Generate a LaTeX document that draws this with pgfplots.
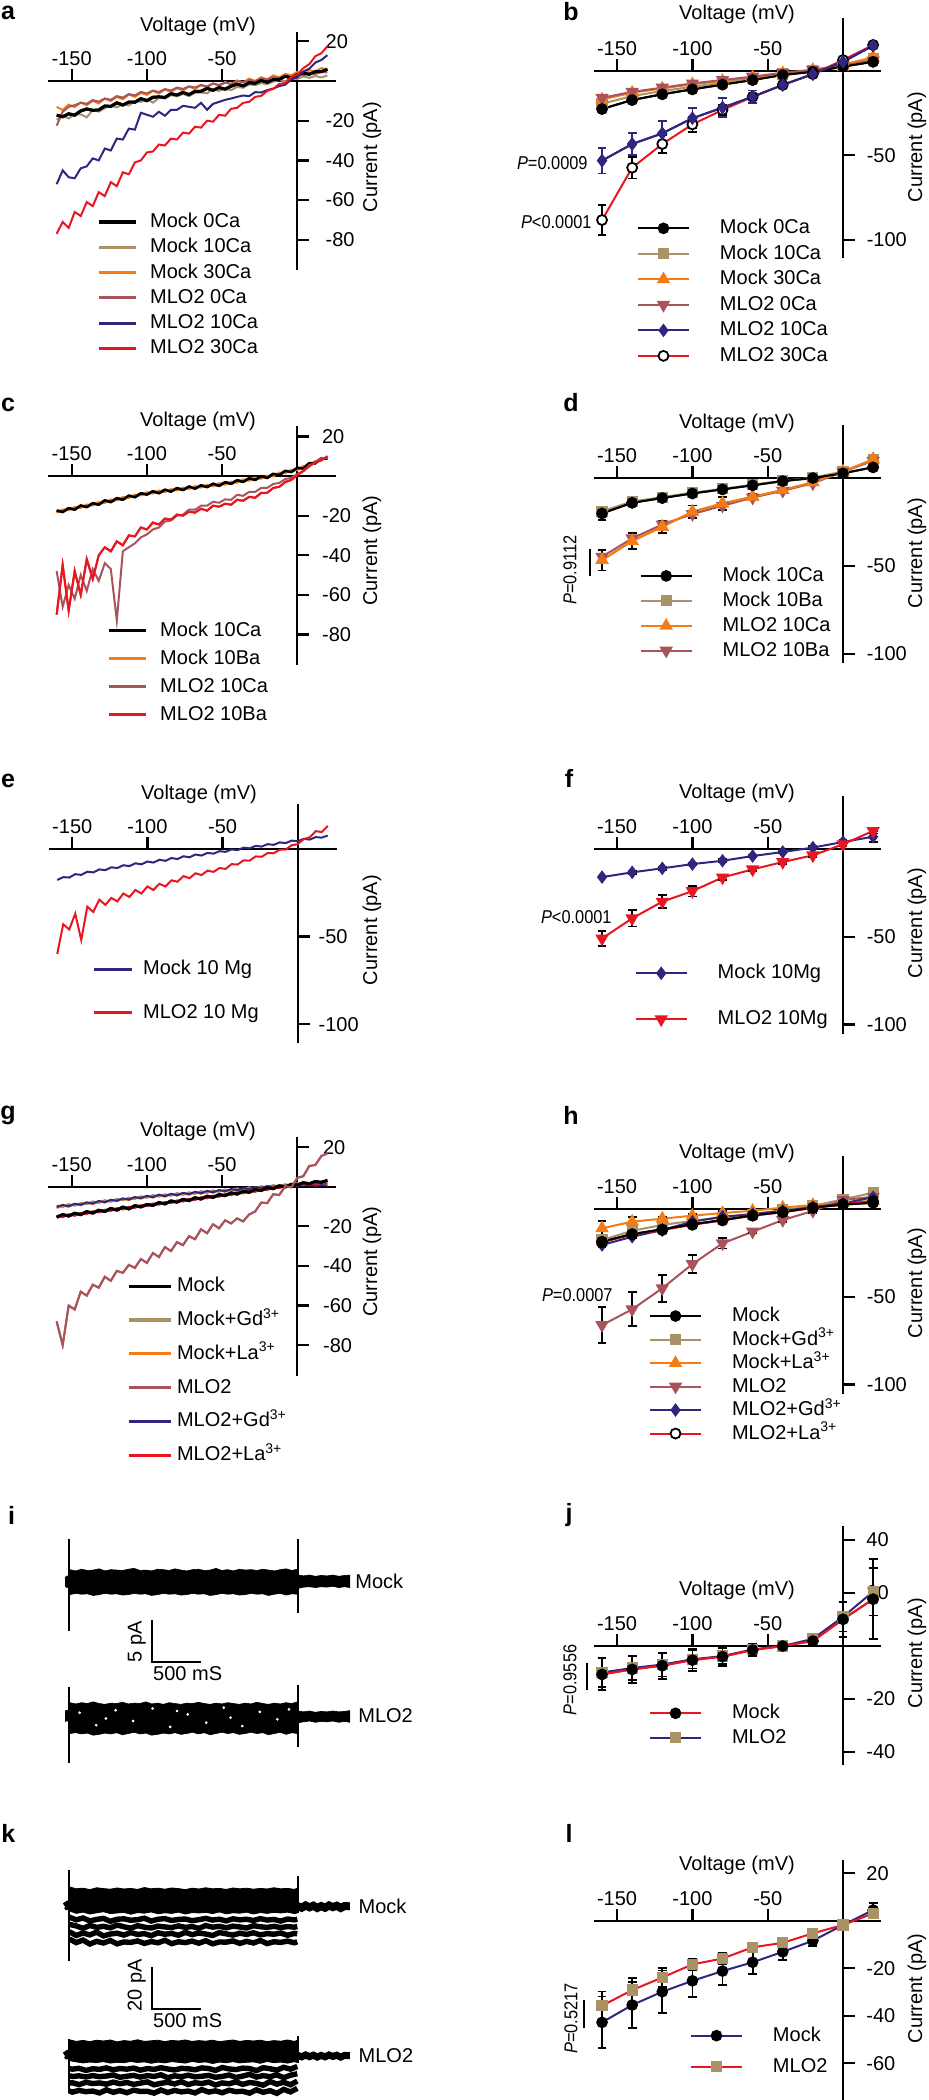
\documentclass[border=0pt]{standalone}
\usepackage{fontspec}
\setmainfont{Liberation Sans}
\usepackage{graphicx}
\usepackage{pgfplots}
\usepackage{pgfplotstable}
\pgfplotsset{compat=1.18}

\definecolor{tanc}{RGB}{168,146,102}
\definecolor{orangec}{RGB}{244,124,22}
\definecolor{mauvec}{RGB}{168,84,90}
\definecolor{navyc}{RGB}{48,38,128}
\definecolor{redc}{RGB}{232,22,32}
\newcommand{\fs}{\fontsize{10}{12}\selectfont}

\pgfplotsset{
  ivbase/.style={
    anchor=origin, clip=false,
    axis x line=middle, axis y line=middle,
    axis line style={line width=1.1pt,-,black},
    tick style={line width=1.1pt,black},
    tick align=inside, major tick length=6pt,
    xtick={-150,-100,-50},
    /pgf/number format/assume math mode=true,
    tick label style={font=\fs, inner sep=0pt},
    xticklabel style={anchor=base, yshift=7.8pt},
    legend cell align=left,
  },
  leg/.style n args={4}{legend style={draw=none, fill=none, inner sep=0pt, outer sep=0pt,
     at={(axis cs:#1,#2)}, anchor=north west, row sep=#3, column sep=#4,
     font=\fs, nodes={inner sep=0pt, text height=7.5pt, text depth=2pt}}},
  trleg/.style={legend image code/.code={\draw[##1,line width=1.6pt] (0pt,0pt) -- (#1,0pt);}},
  mkleg/.style={legend image code/.code={\draw[mark repeat=2,mark phase=2,##1] plot coordinates {(0pt,0pt) (12.75pt,0pt) (25.5pt,0pt)};}},
  eb/.style={error bars/.cd, y dir=both, y explicit, error bar style={line width=0.9pt,#1}, error mark options={rotate=90, line width=0.9pt, mark size=2.2pt, #1}},
  pK/.style={black, line width=1pt, mark=*, mark size=2.4pt, mark options={fill=black,draw=black}},
  pT/.style={tanc, line width=1pt, mark=square*, mark size=2.3pt, mark options={fill=tanc,draw=tanc}},
  pO/.style={orangec, line width=1pt, mark=triangle*, mark size=2.9pt, mark options={fill=orangec,draw=orangec}},
  pV/.style={mauvec, line width=1pt, mark=triangle*, mark size=2.9pt, mark options={fill=mauvec,draw=mauvec,rotate=180}},
  pN/.style={navyc, line width=1pt, mark=diamond*, mark size=2.6pt, mark options={fill=navyc,draw=navyc}},
  pR/.style={redc, line width=1pt, mark=*, mark size=2.5pt, mark options={fill=white,draw=black,line width=0.9pt}},
}

% ---------------- data ----------------
\pgfplotstableread{
V m0 m10 m30 l0 l10 l30
-160 -17.2 -19.5 -13.0 -22.5 -52 -77
-156 -18.0 -17.5 -14.6 -15.5 -45 -71
-152 -16.5 -18.9 -11.9 -13.0 -48.5 -74
-148 -17.2 -16.7 -13.1 -12.2 -49 -66
-144 -15.1 -16.8 -10.9 -10.9 -44 -68
-140 -14.1 -18.3 -12.2 -11.5 -43 -61
-136 -14.8 -14.6 -10.0 -9.6 -39 -63
-132 -14.6 -15.4 -11.3 -10.4 -40 -56
-128 -12.6 -13.7 -8.9 -8.8 -34 -58
-124 -12.8 -12.3 -10.1 -9.5 -35 -51
-120 -11.0 -13.3 -8.0 -7.6 -29 -53
-116 -12.1 -11.7 -9.2 -8.4 -29.5 -46
-112 -10.6 -12.3 -6.8 -6.6 -24 -47
-108 -10.7 -10.1 -8.0 -7.3 -24.5 -41
-104 -8.9 -10.5 -6.0 -5.5 -16 -40
-100 -9.9 -9.0 -7.0 -6.3 -17 -36
-96 -8.2 -10.9 -5.0 -4.8 -18 -35.5
-92 -8.0 -8.5 -6.3 -5.6 -15.5 -32
-88 -8.3 -8.8 -4.2 -4.1 -17.5 -32.5
-84 -6.4 -7.1 -5.5 -4.8 -14.5 -29
-80 -7.1 -7.7 -3.6 -3.3 -14.5 -29.5
-76 -5.8 -6.5 -4.8 -4.0 -12.5 -26
-72 -6.9 -7.6 -2.8 -2.7 -13 -26.5
-68 -5.2 -5.9 -4.0 -3.3 -13.5 -23
-64 -5.2 -5.8 -2.0 -2.0 -11 -23.5
-60 -3.7 -6.2 -3.1 -2.8 -14.5 -20
-56 -4.7 -4.2 -1.2 -1.3 -11.5 -20.5
-52 -3.3 -5.0 -2.5 -2.0 -10.5 -17
-48 -4.1 -3.8 -0.5 -0.8 -9.5 -17.5
-44 -2.6 -4.6 -1.6 -1.5 -8.8 -14
-40 -1.6 -3.0 0.3 -0.1 -8 -13.5
-36 -2.5 -3.4 -0.8 -0.6 -7.3 -11
-32 -0.9 -1.7 1.2 0.5 -7.6 -10.5
-28 -1.2 -2.1 0.0 0.0 -5.6 -8
-24 0.3 -1.1 1.9 1.2 -5.8 -7.5
-20 -0.7 -1.6 0.8 0.8 -4.6 -5
-16 0.7 -0.3 2.8 1.9 -3.8 -4
-12 0.8 0.5 1.8 1.4 -2.6 -1.5
-8 2.4 -0.2 3.6 2.4 -1.8 -1
-4 1.5 1.3 2.9 2.0 0.8 2
0 3.3 1.1 4.6 3.2 1.8 3.2
4 4.0 2.3 3.9 2.9 4.8 6.5
8 3.4 1.6 5.4 3.8 6.2 8.5
12 4.7 2.5 4.9 3.5 9.3 12.5
16 4.7 1.8 6.5 4.6 10.6 14
20 5.9 2.8 5.8 4.3 13 17.5
}\tA

\pgfplotstableread{
V k o m r
-160 -17.5 -18.6 -48 -70
-156 -18.1 -16.9 -66 -45
-152 -16.3 -17.3 -55 -68
-148 -16.9 -15.6 -62 -48
-144 -15.0 -16.1 -50 -60
-140 -15.6 -14.4 -58 -42
-136 -13.8 -14.9 -47 -52
-132 -14.4 -13.1 -53 -40
-128 -12.4 -13.6 -44 -36
-124 -13.1 -11.8 -47 -38
-120 -11.3 -12.3 -73 -33
-116 -11.9 -10.6 -38 -35
-112 -10.0 -11.1 -36 -30
-108 -10.6 -9.4 -34 -30.5
-104 -8.8 -9.8 -31 -26
-100 -9.3 -8.2 -29.5 -27
-96 -7.8 -8.9 -27 -23.5
-92 -8.6 -7.3 -26 -24.5
-88 -7.0 -8.1 -23 -21.5
-84 -7.8 -6.6 -22.5 -22
-80 -6.2 -7.3 -20 -19.5
-76 -7.0 -5.9 -19.5 -20
-72 -5.4 -6.5 -17 -18
-68 -6.3 -5.1 -17 -18.5
-64 -4.8 -5.8 -15 -16.5
-60 -5.5 -4.4 -15 -17.5
-56 -4.0 -5.2 -13 -15
-52 -4.9 -3.6 -13.5 -15.5
-48 -3.2 -4.4 -11.8 -14
-44 -3.9 -2.8 -12 -14.5
-40 -2.2 -3.4 -9.5 -12
-36 -2.9 -1.7 -10 -12.5
-32 -1.2 -2.4 -8 -10.5
-28 -1.9 -0.8 -8 -11
-24 -0.2 -1.4 -6 -8.5
-20 -0.9 0.2 -6 -8.5
-16 1.0 -0.2 -4 -6
-12 0.6 1.7 -3.5 -5.5
-8 2.5 1.4 -1.5 -3
-4 2.1 3.2 -1 -2
0 4.0 2.9 1 0.5
4 3.9 5.1 2.5 2.5
8 6.4 5.3 5.5 5
12 6.5 7.6 6.5 7
16 8.9 7.8 9 8
20 8.8 10.1 9 9.8
}\tC

\pgfplotstableread{
V n r
-160 -17.8 -60
-156 -16.2 -43
-152 -16.4 -46
-148 -14.5 -37
-144 -14.9 -52
-140 -13.1 -33
-136 -13.5 -36
-132 -11.8 -29
-128 -12.2 -32
-124 -10.6 -28
-120 -11.0 -30
-116 -9.4 -25.5
-112 -9.9 -27.5
-108 -8.3 -23.5
-104 -8.9 -25.5
-100 -7.3 -21.5
-96 -7.9 -23.5
-92 -6.3 -20
-88 -6.9 -21.5
-84 -5.3 -18
-80 -5.9 -18.8
-76 -4.3 -15.6
-72 -4.9 -16.8
-68 -3.3 -14
-64 -3.9 -15
-60 -2.4 -12.5
-56 -2.8 -13.2
-52 -1.4 -11
-48 -1.8 -11.5
-44 -0.4 -8.8
-40 -0.8 -9
-36 0.6 -6.6
-32 0.2 -6.8
-28 1.6 -4.4
-24 1.2 -4.6
-20 2.6 -2.5
-16 2.2 -2.6
-12 3.6 -0.6
-8 3.2 -0.5
-4 4.6 2
0 4.3 2.6
4 5.6 5.5
8 5.2 6.5
12 6.6 10
16 6.3 9.5
20 7.5 13
}\tE

\pgfplotstableread{
V k gd la ml lgd lla
-160 -15.4 -9.4 -10.8 -68 -10.2 -14.6
-156 -14.1 -10.3 -9.5 -80 -9.2 -15.4
-152 -14.8 -8.8 -10.1 -60 -9.9 -13.9
-148 -13.4 -9.6 -8.8 -62 -8.6 -14.7
-144 -14.1 -8.2 -9.4 -53 -9.1 -13.2
-140 -12.6 -8.9 -8.1 -55 -7.9 -13.8
-136 -13.3 -7.4 -8.7 -49.5 -8.5 -12.4
-132 -11.9 -8.3 -7.4 -51 -7.2 -13.0
-128 -12.5 -6.8 -8.0 -45.5 -7.8 -11.6
-124 -11.0 -7.6 -6.8 -47.5 -6.6 -12.3
-120 -11.8 -6.1 -7.3 -42.5 -7.1 -10.8
-116 -10.3 -6.9 -6.1 -43.5 -5.9 -11.5
-112 -11.2 -5.5 -6.7 -39.5 -6.5 -10.1
-108 -9.6 -6.2 -5.5 -41 -5.2 -10.7
-104 -10.2 -4.8 -6.0 -36.5 -5.8 -9.3
-100 -9.0 -5.6 -4.8 -38.5 -4.6 -9.8
-96 -9.4 -4.2 -5.5 -33.5 -5.3 -8.5
-92 -8.0 -5.0 -4.3 -35.5 -4.0 -9.1
-88 -8.7 -3.8 -5.0 -30.5 -4.8 -7.7
-84 -7.2 -4.6 -3.8 -32.5 -3.6 -8.3
-80 -7.8 -3.2 -4.5 -28 -4.3 -6.9
-76 -6.4 -4.1 -3.4 -29.5 -3.1 -7.5
-72 -7.0 -2.8 -4.0 -25 -3.8 -6.1
-68 -5.6 -3.6 -2.9 -26.5 -2.6 -6.7
-64 -6.2 -2.2 -3.5 -21.5 -3.3 -5.3
-60 -4.8 -3.1 -2.4 -23.5 -2.1 -5.9
-56 -5.4 -1.8 -3.0 -19 -2.8 -4.5
-52 -4.0 -2.6 -1.9 -21 -1.7 -5.1
-48 -4.5 -1.4 -2.5 -17 -2.3 -3.6
-44 -3.1 -2.1 -1.4 -18.5 -1.2 -4.3
-40 -3.7 -0.8 -2.0 -16 -1.8 -2.8
-36 -2.3 -1.6 -0.9 -17.5 -0.7 -3.4
-32 -2.8 -0.3 -1.5 -14 -1.2 -2.0
-28 -1.4 -1.0 -0.3 -12.5 -0.2 -2.6
-24 -1.9 0.3 -0.9 -8 -0.6 -1.1
-20 -0.5 -0.5 0.2 -8.3 0.3 -1.7
-16 -1.0 0.8 -0.4 -3.8 -0.1 -0.2
-12 0.4 0.0 0.7 -4.2 0.7 -0.7
-8 -0.1 1.3 0.1 0.3 0.3 0.5
-4 1.2 0.5 1.2 -0.3 1.0 0.2
0 0.9 1.8 0.6 4.5 0.7 1.3
4 2.0 0.8 1.4 5.3 0.6 1.0
8 1.5 1.8 0.7 10.5 1.0 1.8
12 2.6 0.9 1.5 11 0.4 1.3
16 2.2 1.7 0.8 15.5 0.8 2.1
20 3.2 1.0 1.4 16.8 0.5 1.7
}\tG

\pgfplotstableread{
V a ae b c d e ee f fe
-160 -22.6 1.5 -19.5 -17 -16 -53.1 7.6 -88.2 9
-140 -17.3 1 -15 -13 -12.5 -43.3 6.6 -57.3 6.4
-120 -13.9 1 -12 -10.5 -10 -37 7.5 -43.3 5.1
-100 -11 1 -9.5 -8 -7.5 -28.1 5.9 -31.7 4.7
-80 -8.2 1 -7 -6 -5.5 -21.8 5.7 -23.2 2.8
-60 -5.5 1 -4.5 -3.8 -3.5 -15.4 3.7 -15.4 1.5
-40 -2.5 0.5 -2 -1.5 -1.2 -8.4 1 -8.4 1
-20 -0.6 0.5 0 0.5 0.5 -2 1 -2 1
0 2.4 0.5 3 3.5 3 5.3 1 6.3 1
20 5.3 0.5 7 8 6 14.8 1 15.2 1
}\tB

\pgfplotstableread{
V a ae b c ce d
-160 -20.2 3.8 -19 -46.7 5.9 -44.8
-140 -14.2 1 -13.5 -35.9 4.6 -34.4
-120 -11.5 1 -11 -27.8 3.5 -26.5
-100 -8.9 1 -8.5 -19.3 3.6 -20.6
-80 -6.6 1 -6.3 -14.6 3.6 -15.9
-60 -4.3 1 -4 -10.8 1.5 -11.3
-40 -1.9 1 -1.8 -7 1 -7.4
-20 -0.2 1 0 -2.6 1 -3.2
0 2.5 1 3.5 3.4 1 3.4
20 5.9 1 10 10.4 1 9.6
}\tD

\pgfplotstableread{
V a ae b be
-160 -16 0.8 -51 4.3
-140 -13.3 0.8 -39.5 4.6
-120 -11 0.8 -30 3.6
-100 -8.6 0.8 -24 3.1
-80 -6.7 0.8 -16.2 1.5
-60 -4 0.8 -11.6 1
-40 -1.7 0.8 -7.4 1
-20 0.8 0.8 -3.6 1
0 4 1 2.7 1
20 7 3 10.3 1.5
}\tF

\pgfplotstableread{
V a ae b c ce d de e f
-160 -18.6 3 -17.7 -11 4 -66.2 10.3 -20.5 -19
-140 -14.3 2 -12.4 -7.2 2.5 -57.2 9.7 -15.8 -14.5
-120 -11.6 2 -9.1 -5.5 1 -45.2 7.7 -12 -12
-100 -8.7 1 -6.7 -3.8 1 -31.4 5.2 -7.2 -9
-80 -6.3 1 -4.8 -2.3 1 -19.6 2.9 -4.4 -6.5
-60 -3.6 1 -2.9 -1 1 -12.9 1 -2.9 -3.8
-40 -1.7 1 -0.6 0.8 1 -6.3 1 -1.1 -1.8
-20 0.8 1 1.7 2.3 1 -1.1 1 1 0.6
0 2.5 1 5.5 3.6 1 5.1 1 3.2 2.7
20 3.6 1 9.3 4.6 1 7 1 6.7 4.5
}\tH

\pgfplotstableread{
V a ae b be
-160 -10.7 6 -10 5.5
-140 -8.8 5.2 -8.3 4.5
-120 -7.4 4.9 -7 4.5
-100 -5.3 4.2 -5 3.5
-80 -4 3.5 -3.8 3
-60 -1.5 2.4 -1.3 2
-40 0 1 0 1
-20 1.9 1 2.7 1
0 10.1 6.6 11 5.5
20 17.7 15 20.5 9
}\tJ

\pgfplotstableread{
V a ae b be
-160 -42.8 10.9 -35.8 6
-140 -35.5 9.7 -29.2 5
-120 -29.9 8.9 -23.9 4
-100 -25.3 6.7 -18.4 2.5
-80 -21.2 6 -15.9 2.5
-60 -17.5 4.9 -11.2 1.5
-40 -13.1 3.3 -9.3 1.5
-20 -8.4 2.3 -5.3 1
0 -1.8 1 -1.8 1
20 4.5 3 3.1 1
}\tL

% single-channel recordings (panel k): time (ms), mirrored time, lower traces (pA)
\pgfplotstableread{
t tr c1 c2 c3 c4
45 2385 -5.0 -8.5 -12.0 -15.5
115 2315 -6.3 -9.2 -13.8 -17.2
185 2245 -5.4 -10.4 -12.6 -16.0
255 2175 -6.8 -9.0 -13.5 -17.9
325 2105 -6.1 -9.9 -12.2 -16.6
395 2035 -5.6 -9.4 -14.0 -17.4
465 1965 -7.0 -10.1 -13.1 -16.2
535 1895 -6.0 -8.8 -12.7 -17.8
605 1825 -5.8 -9.6 -13.6 -16.9
675 1755 -6.5 -10.3 -12.4 -17.1
745 1685 -6.2 -9.1 -13.3 -16.4
815 1615 -5.5 -9.8 -12.9 -17.6
885 1545 -6.9 -10.2 -13.9 -16.7
955 1475 -6.0 -9.3 -12.5 -17.3
1025 1405 -5.7 -9.7 -13.2 -16.1
1095 1335 -6.6 -10.0 -12.8 -17.7
1165 1265 -6.1 -9.2 -13.7 -16.8
1235 1195 -5.9 -9.9 -12.3 -17.2
1305 1125 -6.7 -9.5 -13.4 -16.5
1375 1055 -6.2 -10.4 -12.6 -17.5
1445 985 -5.6 -9.0 -13.1 -16.3
1515 915 -6.4 -9.8 -13.8 -17.8
1585 845 -6.0 -9.4 -12.4 -16.9
1655 775 -6.8 -10.1 -13.0 -17.0
1725 705 -5.8 -9.3 -13.6 -16.4
1795 635 -6.3 -9.7 -12.7 -17.6
1865 565 -6.0 -10.2 -13.3 -16.6
1935 495 -6.6 -9.1 -12.5 -17.4
2005 425 -5.7 -9.6 -13.5 -16.2
2075 355 -6.4 -9.9 -12.9 -17.7
2145 285 -6.1 -9.4 -13.2 -16.8
2215 215 -6.9 -10.0 -12.6 -17.1
2285 145 -5.9 -9.5 -13.7 -16.5
2355 75 -6.3 -9.8 -12.8 -17.3
2385 45 -6.0 -9.5 -13.0 -16.8
}\tK

\begin{document}
\begin{tikzpicture}
\useasboundingbox (0pt,0pt) rectangle (464pt,-1050pt);

% ============ a ============
\begin{axis}[ivbase, at={(148.65pt,-40.5pt)}, x=0.752pt, y=0.9925pt,
  xmin=-165.8, xmax=25.7, ymin=-95.2, ymax=24.7,
  ytick={-80,-60,-40,-20,20}, yticklabel style={anchor=west, xshift=14pt},
  leg={-133.2}{-66.2}{3.15pt}{6.5pt}]
\addplot[black, line width=1.5pt, trleg=18.5pt] table[x=V,y=m0]{\tA};
\addlegendentry{Mock 0Ca}
\addplot[tanc, line width=1pt, trleg=18.5pt] table[x=V,y=m10]{\tA};
\addlegendentry{Mock 10Ca}
\addplot[orangec, line width=1pt, trleg=18.5pt] table[x=V,y=m30]{\tA};
\addlegendentry{Mock 30Ca}
\addplot[mauvec, line width=1pt, trleg=18.5pt] table[x=V,y=l0]{\tA};
\addlegendentry{MLO2 0Ca}
\addplot[black, line width=1.5pt, forget plot] table[x=V,y=m0]{\tA};
\addplot[navyc, line width=1pt, trleg=18.5pt] table[x=V,y=l10]{\tA};
\addlegendentry{MLO2 10Ca}
\addplot[redc, line width=1pt, trleg=18.5pt] table[x=V,y=l30]{\tA};
\addlegendentry{MLO2 30Ca}
\end{axis}

% ============ b ============
\begin{axis}[ivbase, at={(421.5pt,-35.35pt)}, x=0.753pt, y=0.8465pt,
  xmin=-165.3, xmax=25.2, ymin=-110.4, ymax=30.9,
  ytick={-100,-50}, yticklabel style={anchor=west, xshift=11.7pt},
  leg={-136.8}{-87.5}{3.25pt}{15pt}, mkleg]
\addplot[pK, eb=black] table[x=V,y=a,y error=ae]{\tB};
\addlegendentry{Mock 0Ca}
\addplot[pT] table[x=V,y=b]{\tB};
\addlegendentry{Mock 10Ca}
\addplot[pO] table[x=V,y=c]{\tB};
\addlegendentry{Mock 30Ca}
\addplot[pV] table[x=V,y=d]{\tB};
\addlegendentry{MLO2 0Ca}
\addplot[pK, forget plot] table[x=V,y=a]{\tB};
\addplot[pN, eb=navyc] table[x=V,y=e,y error=ee]{\tB};
\addlegendentry{MLO2 10Ca}
\addplot[pR, eb=black] table[x=V,y=f,y error=fe]{\tB};
\addlegendentry{MLO2 30Ca}
\addplot[pN, forget plot] table[x=V,y=e]{\tB};
\end{axis}

% ============ c ============
\begin{axis}[ivbase, at={(148.65pt,-238pt)}, x=0.752pt, y=0.99pt,
  xmin=-165.8, xmax=25.7, ymin=-95.5, ymax=25.3,
  ytick={-80,-60,-40,-20,20}, yticklabel style={anchor=west, xshift=12.2pt},
  leg={-126.5}{-73.3}{4.5pt}{6.5pt}]
\addplot[black, line width=1.4pt, trleg=18.5pt] table[x=V,y=k]{\tC};
\addlegendentry{Mock 10Ca}
\addplot[orangec, line width=1pt, trleg=18.5pt] table[x=V,y=o]{\tC};
\addlegendentry{Mock 10Ba}
\addplot[black, line width=1.2pt, forget plot] table[x=V,y=k]{\tC};
\addplot[redc, line width=1pt, forget plot] table[x=V,y=r]{\tC};
\addplot[mauvec, line width=1pt, trleg=18.5pt] table[x=V,y=m]{\tC};
\addlegendentry{MLO2 10Ca}
\addplot[redc, line width=1pt, trleg=18.5pt] table[x=V,y=r]{\tC};
\addlegendentry{MLO2 10Ba}
\end{axis}

% ============ d ============
\begin{axis}[ivbase, at={(421.5pt,-238.85pt)}, x=0.753pt, y=0.882pt,
  xmin=-165.3, xmax=25.2, ymin=-105.2, ymax=29.9,
  ytick={-100,-50}, yticklabel style={anchor=west, xshift=11.7pt},
  leg={-135}{-50.3}{2.95pt}{15pt}, mkleg]
\addplot[pK, eb=black] table[x=V,y=a,y error=ae]{\tD};
\addlegendentry{Mock 10Ca}
\addplot[pT] table[x=V,y=b]{\tD};
\addlegendentry{Mock 10Ba}
\addplot[pO, eb=black] table[x=V,y=c,y error=ce]{\tD};
\addlegendentry{MLO2 10Ca}
\addplot[pV] table[x=V,y=d]{\tD};
\addlegendentry{MLO2 10Ba}
\addplot[pO, forget plot] table[x=V,y=c]{\tD};
\addplot[pK, forget plot] table[x=V,y=a]{\tD};
\end{axis}

% ============ e ============
\begin{axis}[ivbase, at={(148.85pt,-424.35pt)}, x=0.7515pt, y=0.878pt,
  xmin=-165.3, xmax=26.2, ymin=-110.8, ymax=25.5,
  ytick={-100,-50}, yticklabel style={anchor=west, xshift=10.3pt},
  leg={-136.4}{-63.3}{12.2pt}{5pt}]
\addplot[navyc, line width=1pt, trleg=18.65pt] table[x=V,y=n]{\tE};
\addlegendentry{Mock 10 Mg}
\addplot[redc, line width=1pt, trleg=18.65pt] table[x=V,y=r]{\tE};
\addlegendentry{MLO2 10 Mg}
\end{axis}

% ============ f ============
\begin{axis}[ivbase, at={(421.5pt,-424.5pt)}, x=0.753pt, y=0.8775pt,
  xmin=-165.3, xmax=25.2, ymin=-105.6, ymax=30.4,
  ytick={-100,-50}, yticklabel style={anchor=west, xshift=11.7pt},
  leg={-138.3}{-65.4}{13.5pt}{15pt}, mkleg]
\addplot[pN, eb=black] table[x=V,y=a,y error=ae]{\tF};
\addlegendentry{Mock 10Mg}
\addplot[redc, line width=1pt, mark=triangle*, mark size=2.9pt, mark options={fill=redc,draw=redc,rotate=180}, eb=black] table[x=V,y=b,y error=be]{\tF};
\addlegendentry{MLO2 10Mg}
\end{axis}

% ============ g ============
\begin{axis}[ivbase, at={(148.65pt,-593.35pt)}, x=0.752pt, y=0.99pt,
  xmin=-165.8, xmax=25.7, ymin=-95.6, ymax=25.3,
  ytick={-80,-60,-40,-20,20}, yticklabel style={anchor=west, xshift=12.7pt},
  leg={-112.8}{-45.4}{7.4pt}{2.3pt}]
\addplot[black, line width=1.5pt, trleg=20.8pt] table[x=V,y=k]{\tG};
\addlegendentry{Mock}
\addplot[tanc, line width=1pt, trleg=20.8pt] table[x=V,y=gd]{\tG};
\addlegendentry{Mock+Gd\textsuperscript{3+}}
\addplot[orangec, line width=1pt, trleg=20.8pt] table[x=V,y=la]{\tG};
\addlegendentry{Mock+La\textsuperscript{3+}}
\addplot[mauvec, line width=1pt, trleg=20.8pt] table[x=V,y=ml]{\tG};
\addlegendentry{MLO2}
\addplot[navyc, line width=1pt, trleg=20.8pt] table[x=V,y=lgd]{\tG};
\addlegendentry{MLO2+Gd\textsuperscript{3+}}
\addplot[redc, line width=1pt, trleg=20.8pt] table[x=V,y=lla]{\tG};
\addlegendentry{MLO2+La\textsuperscript{3+}}
\addplot[black, line width=1.5pt, forget plot] table[x=V,y=k]{\tG};
\addplot[mauvec, line width=1pt, forget plot] table[x=V,y=ml]{\tG};
\end{axis}

% ============ h ============
\begin{axis}[ivbase, at={(421.5pt,-604.5pt)}, x=0.753pt, y=0.877pt,
  xmin=-165.3, xmax=25.2, ymin=-105.6, ymax=30.4,
  ytick={-100,-50}, yticklabel style={anchor=west, xshift=11.7pt},
  leg={-128.8}{-55.6}{2.25pt}{15pt}, mkleg]
\addplot[pK, eb=black] table[x=V,y=a,y error=ae]{\tH};
\addlegendentry{Mock}
\addplot[pT] table[x=V,y=b]{\tH};
\addlegendentry{Mock+Gd\textsuperscript{3+}}
\addplot[pO, eb=black] table[x=V,y=c,y error=ce]{\tH};
\addlegendentry{Mock+La\textsuperscript{3+}}
\addplot[pV, eb=black] table[x=V,y=d,y error=de]{\tH};
\addlegendentry{MLO2}
\addplot[pN] table[x=V,y=e]{\tH};
\addlegendentry{MLO2+Gd\textsuperscript{3+}}
\addplot[pR] table[x=V,y=f]{\tH};
\addlegendentry{MLO2+La\textsuperscript{3+}}
\addplot[pK, forget plot] table[x=V,y=a]{\tH};
\end{axis}

% ============ j ============
\begin{axis}[ivbase, at={(421.5pt,-823pt)}, x=0.753pt, y=1.325pt,
  xmin=-165.3, xmax=25.2, ymin=-44.9, ymax=45.3,
  ytick={-40,-20,20,40}, yticklabel style={anchor=west, xshift=11.5pt},
  leg={-128.8}{-21.8}{2.7pt}{15pt}, mkleg]
\addplot[redc, line width=1pt, mark=*, mark size=2.4pt, mark options={fill=black,draw=black}, eb=black] table[x=V,y=a,y error=ae]{\tJ};
\addlegendentry{Mock}
\addplot[navyc, line width=1pt, mark=square*, mark size=2.3pt, mark options={fill=tanc,draw=tanc}, eb=black] table[x=V,y=b,y error=be]{\tJ};
\addlegendentry{MLO2}
\addplot[redc, line width=1pt, mark=*, mark size=2.4pt, mark options={fill=black,draw=black}, forget plot] table[x=V,y=a]{\tJ};
\end{axis}

% ============ l ============
\begin{axis}[ivbase, at={(421.5pt,-960.35pt)}, x=0.753pt, y=1.1875pt,
  xmin=-165.3, xmax=25.2, ymin=-75.5, ymax=25.6,
  ytick={-60,-40,-20,20}, yticklabel style={anchor=west, xshift=11.5pt},
  leg={-101.6}{-44.4}{6pt}{15pt}, mkleg]
\addplot[navyc, line width=1pt, mark=*, mark size=2.4pt, mark options={fill=black,draw=black}, eb=black] table[x=V,y=a,y error=ae]{\tL};
\addlegendentry{Mock}
\addplot[redc, line width=1pt, mark=square*, mark size=2.3pt, mark options={fill=tanc,draw=tanc}, eb=black] table[x=V,y=b,y error=be]{\tL};
\addlegendentry{MLO2}
\end{axis}

% ============ i (Mock) ============
\begin{axis}[hide axis, anchor=origin, clip=false, at={(32.5pt,-790.85pt)}, x=0.0487pt, y=4.17pt,
  xmin=0, xmax=2930, ymin=-12, ymax=6]
\addplot[fill=black, draw=black, line width=0.3pt] coordinates {
(0,0.5)(20,0.7)(42,0.6)(48,1.45)(110,1.3)(170,1.5)(230,1.35)(290,1.4)(350,1.55)(410,1.3)(470,1.45)(530,1.4)(590,1.35)(650,1.5)(710,1.6)(770,1.35)(830,1.4)(890,1.3)(950,1.5)(1010,1.45)(1070,1.35)(1130,1.55)(1190,1.4)(1250,1.3)(1310,1.45)(1370,1.5)(1430,1.35)(1490,1.4)(1550,1.6)(1610,1.35)(1670,1.45)(1730,1.3)(1790,1.5)(1850,1.4)(1910,1.45)(1970,1.35)(2030,1.5)(2090,1.4)(2150,1.3)(2210,1.45)(2270,1.55)(2330,1.35)(2385,1.5)(2395,0.8)(2450,0.7)(2510,0.8)(2570,0.65)(2630,0.75)(2690,0.7)(2750,0.8)(2810,0.65)(2870,0.75)(2925,0.8)
(2925,-0.7)(2870,-0.6)(2810,-0.7)(2750,-0.55)(2690,-0.65)(2630,-0.6)(2570,-0.7)(2510,-0.6)(2450,-0.65)(2395,-0.8)(2385,-1.5)(2330,-1.45)(2270,-1.6)(2210,-1.4)(2150,-1.5)(2090,-1.65)(2030,-1.45)(1970,-1.5)(1910,-1.4)(1850,-1.55)(1790,-1.6)(1730,-1.45)(1670,-1.5)(1610,-1.4)(1550,-1.55)(1490,-1.65)(1430,-1.45)(1370,-1.5)(1310,-1.4)(1250,-1.55)(1190,-1.6)(1130,-1.45)(1070,-1.5)(1010,-1.4)(950,-1.55)(890,-1.65)(830,-1.45)(770,-1.5)(710,-1.4)(650,-1.55)(590,-1.6)(530,-1.45)(470,-1.5)(410,-1.4)(350,-1.55)(290,-1.65)(230,-1.45)(170,-1.5)(110,-1.4)(48,-1.55)(42,-0.6)(20,-0.7)(0,-0.5)};
\addplot[black, line width=0.8pt] coordinates {(40,5.1) (40,-5.9)};
\addplot[black, line width=0.8pt] coordinates {(2390,5.1) (2390,-3.7)};
\addplot[black, line width=0.9pt] coordinates {(896,-4.6) (896,-9.6) (1396,-9.6)};
\end{axis}

% ============ i (MLO2) ============
\begin{axis}[hide axis, anchor=origin, clip=false, at={(32.5pt,-858pt)}, x=0.0487pt, y=4.17pt,
  xmin=0, xmax=2930, ymin=-6, ymax=6]
\addplot[fill=black, draw=black, line width=0.3pt] coordinates {
(0,0.6)(20,0.7)(42,0.6)(48,1.6)(110,1.45)(170,1.6)(230,1.5)(290,1.7)(350,1.5)(410,1.4)(470,1.55)(530,1.5)(590,1.65)(650,1.45)(710,1.55)(770,1.5)(830,1.7)(890,1.45)(950,1.55)(1010,1.4)(1070,1.6)(1130,1.5)(1190,1.4)(1250,1.55)(1310,1.5)(1370,1.65)(1430,1.5)(1490,1.4)(1550,1.55)(1610,1.45)(1670,1.6)(1730,1.5)(1790,1.4)(1850,1.55)(1910,1.45)(1970,1.65)(2030,1.5)(2090,1.4)(2150,1.55)(2210,1.45)(2270,1.6)(2330,1.5)(2385,1.7)(2395,0.6)(2450,0.5)(2510,0.6)(2570,0.45)(2630,0.55)(2690,0.5)(2750,0.6)(2810,0.5)(2870,0.55)(2925,0.65)
(2925,-0.75)(2870,-0.65)(2810,-0.75)(2750,-0.6)(2690,-0.7)(2630,-0.65)(2570,-0.75)(2510,-0.6)(2450,-0.7)(2395,-0.8)(2385,-2.1)(2330,-2.0)(2270,-2.2)(2210,-1.95)(2150,-2.1)(2090,-2.25)(2030,-2.0)(1970,-2.1)(1910,-1.95)(1850,-2.1)(1790,-2.2)(1730,-2.0)(1670,-2.1)(1610,-1.95)(1550,-2.1)(1490,-2.25)(1430,-2.0)(1370,-2.15)(1310,-1.95)(1250,-2.1)(1190,-2.2)(1130,-2.0)(1070,-2.15)(1010,-2.05)(950,-2.2)(890,-2.3)(830,-2.05)(770,-2.15)(710,-1.95)(650,-2.1)(590,-2.25)(530,-2.0)(470,-2.15)(410,-2.05)(350,-2.2)(290,-2.3)(230,-2.05)(170,-2.15)(110,-2.0)(48,-2.1)(42,-0.7)(20,-0.55)(0,-0.7)};
\addplot[white, only marks, mark=*, mark size=0.45pt] coordinates {(150,0.4)(320,-1.1)(520,0.7)(700,-0.6)(900,0.9)(1080,-1.3)(1260,0.2)(1450,-0.8)(1630,1.0)(1820,-1.2)(2000,0.5)(2180,-0.4)(2300,0.8)(420,-0.3)(1150,0.6)(1700,-0.2)};
\addplot[black, line width=0.8pt] coordinates {(40,3.5) (40,-5.6)};
\addplot[black, line width=0.8pt] coordinates {(2390,3.7) (2390,-3.7)};
\end{axis}

% ============ k (Mock) ============
\begin{axis}[hide axis, anchor=origin, clip=false, at={(32.5pt,-953.35pt)}, x=0.0487pt, y=1.0425pt,
  xmin=0, xmax=2930, ymin=-50, ymax=20]
\addplot[fill=black, draw=black, line width=0.4pt] coordinates {
(45,9.5)(115,8.6)(185,8.9)(255,8.2)(325,9.1)(395,8.7)(465,8.4)(535,9.0)(605,8.5)(675,8.8)(745,8.3)(815,9.2)(885,8.6)(955,8.9)(1025,8.4)(1095,9.0)(1165,8.7)(1235,8.2)(1305,8.9)(1375,8.5)(1445,9.1)(1515,8.6)(1585,8.8)(1655,8.3)(1725,9.0)(1795,8.6)(1865,8.9)(1935,8.4)(2005,8.8)(2075,8.5)(2145,9.1)(2215,8.6)(2285,8.8)(2355,8.3)(2385,8.9)
(2385,-3.0)(2355,-3.3)(2285,-2.6)(2215,-3.0)(2145,-2.7)(2075,-3.2)(2005,-2.8)(1935,-3.5)(1865,-2.6)(1795,-3.1)(1725,-2.9)(1655,-3.4)(1585,-2.5)(1515,-3.3)(1445,-2.7)(1375,-3.0)(1305,-2.8)(1235,-3.5)(1165,-2.6)(1095,-3.2)(1025,-2.9)(955,-3.4)(885,-2.5)(815,-3.1)(745,-2.8)(675,-3.6)(605,-2.7)(535,-3.0)(465,-3.3)(395,-2.4)(325,-2.9)(255,-3.5)(185,-2.6)(115,-3.2)(45,-2.0)};
\addplot[black, line width=2.7pt] table[x=t,y=c1]{\tK};
\addplot[black, line width=2.7pt] table[x=t,y=c2]{\tK};
\addplot[black, line width=2.7pt] table[x=t,y=c3]{\tK};
\addplot[black, line width=2.7pt] table[x=t,y=c4]{\tK};
\addplot[black, line width=4pt] coordinates {(0,0)(20,0.6)(40,-0.4)};
\addplot[black, line width=4pt] coordinates {(2390,0.3)(2430,-0.5)(2470,0.6)(2510,-0.3)(2550,0.5)(2590,-0.6)(2630,0.3)(2670,-0.5)(2710,0.6)(2750,-0.2)(2790,0.5)(2830,-0.6)(2870,0.3)(2925,0.2)};
\addplot[black, line width=0.8pt] coordinates {(40,17.6) (40,-25.9)};
\addplot[black, line width=0.8pt] coordinates {(2390,14.7) (2390,-3)};
\addplot[black, line width=0.9pt] coordinates {(896,-29.1) (896,-49.1) (1396,-49.1)};
\end{axis}

% ============ k (MLO2) ============
\begin{axis}[hide axis, anchor=origin, clip=false, at={(32.5pt,-1028pt)}, x=0.0487pt, y=1.0425pt,
  xmin=0, xmax=2930, ymin=-20, ymax=20]
\addplot[fill=black, draw=black, line width=0.4pt] coordinates {
(45,7.8)(115,7.0)(185,7.5)(255,6.9)(325,7.6)(395,7.2)(465,7.7)(535,6.8)(605,7.4)(675,7.1)(745,7.8)(815,7.0)(885,7.3)(955,7.6)(1025,6.9)(1095,7.5)(1165,7.2)(1235,7.7)(1305,7.0)(1375,7.4)(1445,7.1)(1515,7.6)(1585,6.9)(1655,7.3)(1725,7.7)(1795,7.0)(1865,7.5)(1935,7.2)(2005,7.6)(2075,6.9)(2145,7.4)(2215,7.1)(2285,7.7)(2355,7.0)(2385,7.5)
(2385,-3.1)(2355,-2.7)(2285,-3.4)(2215,-2.9)(2145,-3.2)(2075,-2.6)(2005,-3.5)(1935,-2.8)(1865,-3.0)(1795,-3.3)(1725,-2.7)(1655,-3.2)(1585,-2.9)(1515,-3.6)(1445,-2.8)(1375,-3.1)(1305,-2.6)(1235,-3.4)(1165,-3.0)(1095,-2.7)(1025,-3.3)(955,-2.9)(885,-3.5)(815,-2.8)(745,-3.1)(675,-2.6)(605,-3.2)(535,-3.0)(465,-3.4)(395,-2.7)(325,-3.1)(255,-2.9)(185,-3.3)(115,-2.8)(45,-2.2)};
\addplot[black, line width=2.7pt] table[x=tr,y=c1]{\tK};
\addplot[black, line width=2.7pt] table[x=tr,y=c2]{\tK};
\addplot[black, line width=2.7pt] table[x=tr,y=c3]{\tK};
\addplot[black, line width=2.7pt] table[x=tr,y=c4]{\tK};
\addplot[black, line width=4pt] coordinates {(0,0)(20,0.6)(40,-0.4)};
\addplot[black, line width=3.5pt] coordinates {(2390,0.3)(2430,-0.4)(2470,0.5)(2510,-0.3)(2550,0.4)(2590,-0.5)(2630,0.3)(2670,-0.4)(2710,0.5)(2750,-0.2)(2790,0.4)(2830,-0.5)(2870,0.3)(2925,0.2)};
\addplot[black, line width=0.8pt] coordinates {(40,8) (40,-17.9)};
\addplot[black, line width=0.8pt] coordinates {(2390,9.6) (2390,-3.5)};
\end{axis}

% ============ text ============
\begin{scope}[x=0.5pt,y=-0.5pt, every node/.style={font=\fs, inner sep=0pt}]
\tikzset{pl/.style={font=\fontsize{12.5}{14}\bfseries\selectfont}}
\node[pl] at (8,13) {a};
\node[pl] at (571,12) {b};
\node[pl] at (8,405) {c};
\node[pl] at (571,403) {d};
\node[pl] at (8,781) {e};
\node[pl] at (569,778) {f};
\node[pl] at (8,1115) {g};
\node[pl] at (571,1115) {h};
\node[pl] at (11.7,1515) {i};
\node[pl] at (569,1515) {j};
\node[pl] at (8.3,1833) {k};
\node[pl] at (569,1833) {l};
% axis titles
\node at (198,26) {Voltage (mV)};
\node at (737,14) {Voltage (mV)};
\node at (198,421) {Voltage (mV)};
\node at (737,423) {Voltage (mV)};
\node at (199,794) {Voltage (mV)};
\node at (737,793) {Voltage (mV)};
\node at (198,1131.7) {Voltage (mV)};
\node at (737,1153.3) {Voltage (mV)};
\node at (737,1590.7) {Voltage (mV)};
\node at (737,1865.7) {Voltage (mV)};
\node[rotate=90] at (372,157) {Current (pA)};
\node[rotate=90] at (917,147) {Current (pA)};
\node[rotate=90] at (372,550.7) {Current (pA)};
\node[rotate=90] at (917,553) {Current (pA)};
\node[rotate=90] at (372,930) {Current (pA)};
\node[rotate=90] at (917,923) {Current (pA)};
\node[rotate=90] at (372,1261.7) {Current (pA)};
\node[rotate=90] at (917,1283) {Current (pA)};
\node[rotate=90] at (917,1653.3) {Current (pA)};
\node[rotate=90] at (917,1988.3) {Current (pA)};
% P values
\tikzset{pv/.style={font=\fontsize{9.3}{11}\selectfont}}
\node[pv, anchor=east] at (588,163) {\scalebox{0.88}[1]{\textit{P}=0.0009}};
\node[pv, anchor=east] at (592,222) {\scalebox{0.88}[1]{\textit{P}<0.0001}};
\node[pv, anchor=east] at (612,916.7) {\scalebox{0.88}[1]{\textit{P}<0.0001}};
\node[pv, anchor=east] at (613,1295) {\scalebox{0.88}[1]{\textit{P}=0.0007}};
\node[pv, rotate=90] at (570,570) {\scalebox{0.88}[1]{\textit{P}=0.9112}};
\node[pv, rotate=90] at (570,1680) {\scalebox{0.88}[1]{\textit{P}=0.9556}};
\node[pv, rotate=90] at (571,2018.3) {\scalebox{0.88}[1]{\textit{P}=0.5217}};
\draw[line width=0.9pt] (590,549) -- (590,576);
\draw[line width=0.9pt] (586.7,1662.7) -- (586.7,1690);
\draw[line width=0.9pt] (584,2000) -- (584,2028.3);
% trace labels
\node[anchor=west] at (355,1581.7) {Mock};
\node[anchor=west] at (358,1716) {MLO2};
\node[anchor=west] at (358.3,1906.7) {Mock};
\node[anchor=west] at (358.3,2056) {MLO2};
\node[rotate=90] at (136.7,1641.7) {5 pA};
\node at (187.7,1673.3) {500 mS};
\node[rotate=90] at (136.7,1985) {20 pA};
\node at (187.7,2020.7) {500 mS};
\end{scope}
\end{tikzpicture}
\end{document}
